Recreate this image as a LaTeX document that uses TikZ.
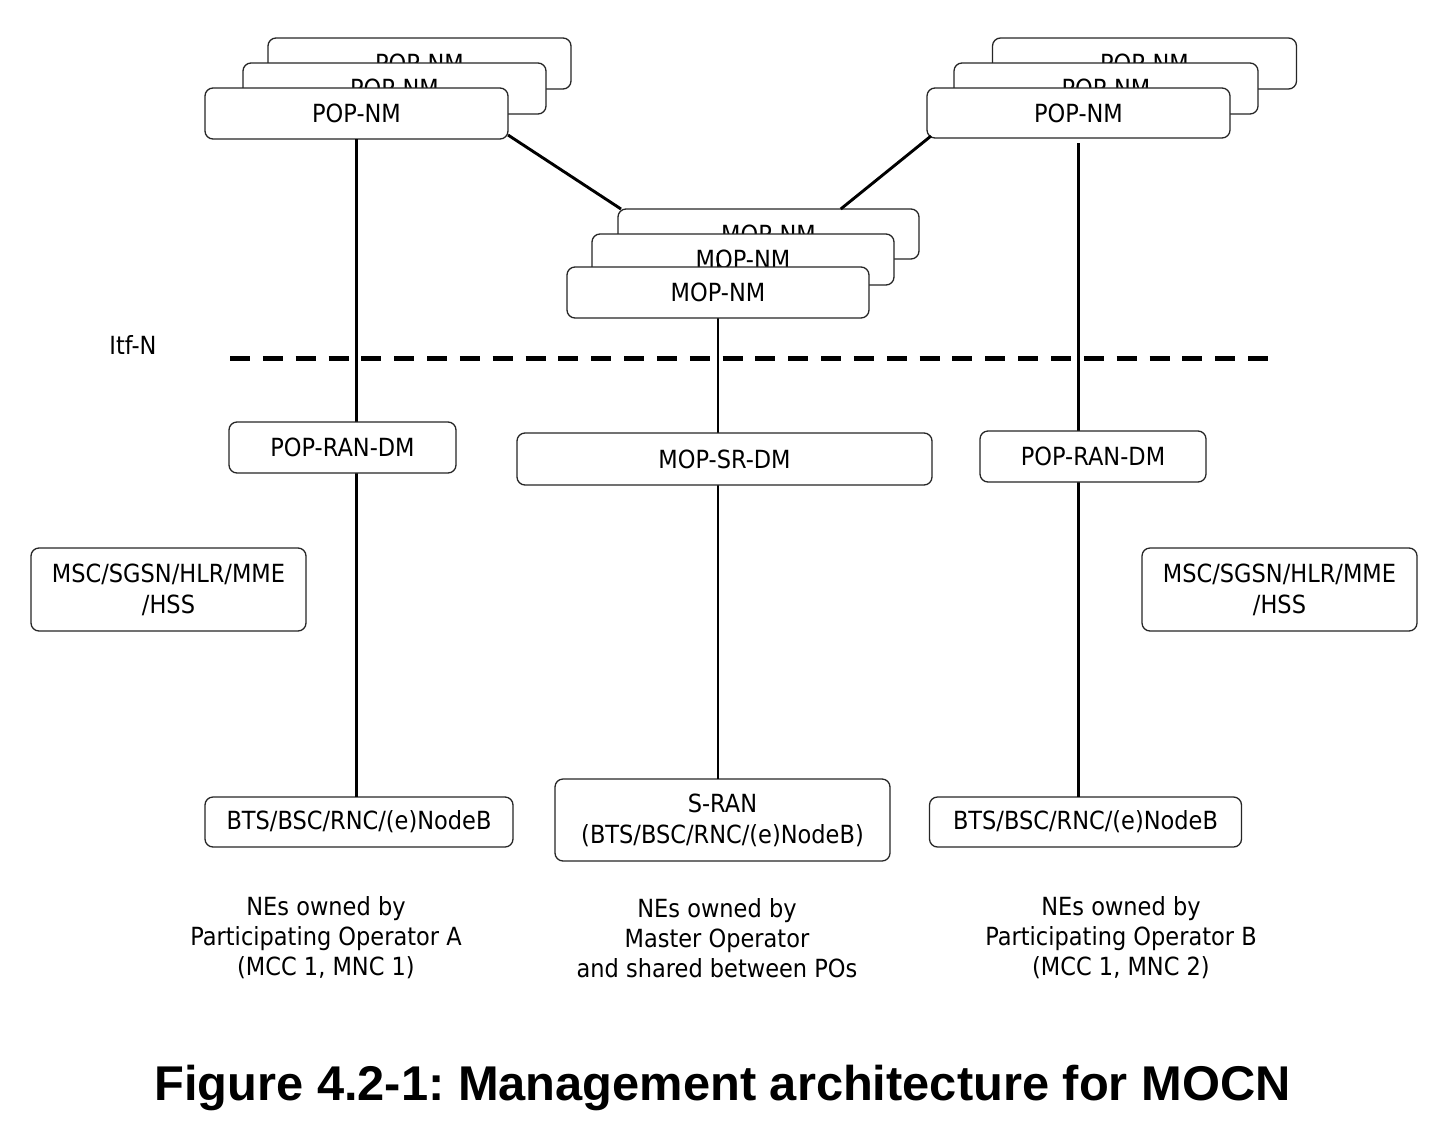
\documentclass[tikz,border=0pt]{standalone}
\usepackage{fontspec}
\usetikzlibrary{calc}
\newfontfamily\diagfont{DejaVu Sans}[FakeStretch=0.9]
\newfontfamily\titlefont{Liberation Sans}
\frenchspacing
\tikzset{
  box/.style={draw=black!85, fill=white, rounded corners=8pt, line width=1.3pt,
    inner sep=0pt, outer sep=0pt, align=center,
    font=\diagfont\fontsize{25}{31}\selectfont},
  conn/.style={line width=2.9pt, black},
  plain/.style={inner sep=0pt, align=center, font=\diagfont\fontsize{25}{30}\selectfont},
}
\begin{document}
\begin{tikzpicture}[x=1pt,y=-1pt]
\useasboundingbox (0,0) rectangle (1440,1122);
% POP-NM stack A
\node[box, minimum width=303, minimum height=51] (popA3) at (419.5,63.5) {POP-NM};
\node[box, minimum width=303, minimum height=51] (popA2) at (394.5,88.5) {POP-NM};
\node[box, minimum width=303, minimum height=51] (popA1) at (356.5,113.5) {POP-NM};
% POP-NM stack B
\node[box, minimum width=304, minimum height=51] (popB3) at (1144.5,63.5) {POP-NM};
\node[box, minimum width=304, minimum height=51] (popB2) at (1106,88.5) {POP-NM};
\node[box, minimum width=303, minimum height=50] (popB1) at (1078.5,113) {POP-NM};
% side boxes
\node[box, minimum width=275, minimum height=83] (mscA) at (168.5,589.5) {MSC/SGSN/HLR/MME\\/HSS};
\node[box, minimum width=275, minimum height=83] (mscB) at (1279.5,589.5) {MSC/SGSN/HLR/MME\\/HSS};
% bottom NEs
\node[box, minimum width=308, minimum height=50] (btsA) at (359,822) {BTS/BSC/RNC/(e)NodeB};
\node[box, minimum width=335, minimum height=82] (sran) at (722.5,820) {S-RAN\\(BTS/BSC/RNC/(e)NodeB)};
\node[box, minimum width=312, minimum height=50] (btsB) at (1085.5,822) {BTS/BSC/RNC/(e)NodeB};
% MOP-NM stack (back two)
\node[box, minimum width=301, minimum height=50] (mop3) at (768.5,234) {MOP-NM};
\node[box, minimum width=302, minimum height=51] (mop2) at (743,259.5) {MOP-NM};
% vertical connectors
\coordinate (mtop) at (718,253);
\draw[conn] (popA1.south) -- (popA1.south |- btsA.north);
\draw[conn] (mtop) -- (mtop |- sran.north);
\draw[conn, shorten <=5pt] (popB1.south) -- (popB1.south |- btsB.north);
% front MOP-NM
\node[box, minimum width=302, minimum height=51] (mop1) at (718,292.5) {MOP-NM};
% DM boxes
\node[box, minimum width=227, minimum height=51] (ranA) at (342.5,447.5) {POP-RAN-DM};
\node[box, minimum width=415, minimum height=52] (srdm) at (724.5,459) {MOP-SR-DM};
\node[box, minimum width=226, minimum height=51] (ranB) at (1093,456.5) {POP-RAN-DM};
% diagonal connectors
\draw[conn] ($(popA1.south east)+(0,-4)$) -- ($(mop3.north west)+(3,0)$);
\draw[conn] ($(popB1.south west)+(4,-2)$) -- ($(mop3.north west)!0.74!(mop3.north east)$);
% Itf-N
\node[plain] (itf) at (133,345) {Itf-N};
\coordinate (itfL) at (230,358);
\coordinate (itfR) at (1268,358);
\draw[line width=5pt, dash pattern=on 20pt off 12.84pt] (itfL) -- (itfR);
% captions
\node[plain] (capA) at (326,938) {NEs owned by\\Participating Operator A\\(MCC 1, MNC 1)};
\node[plain] (capM) at (717,938) {NEs owned by\\Master Operator\\and shared between POs};
\node[plain] (capB) at (1121,938) {NEs owned by\\Participating Operator B\\(MCC 1, MNC 2)};
% title
\node[inner sep=0pt, anchor=base, font=\titlefont\bfseries\fontsize{48.8}{55}\selectfont] (title) at (722.5,1100) {Figure 4.2-1: Management architecture for MOCN};
\end{tikzpicture}
\end{document}
